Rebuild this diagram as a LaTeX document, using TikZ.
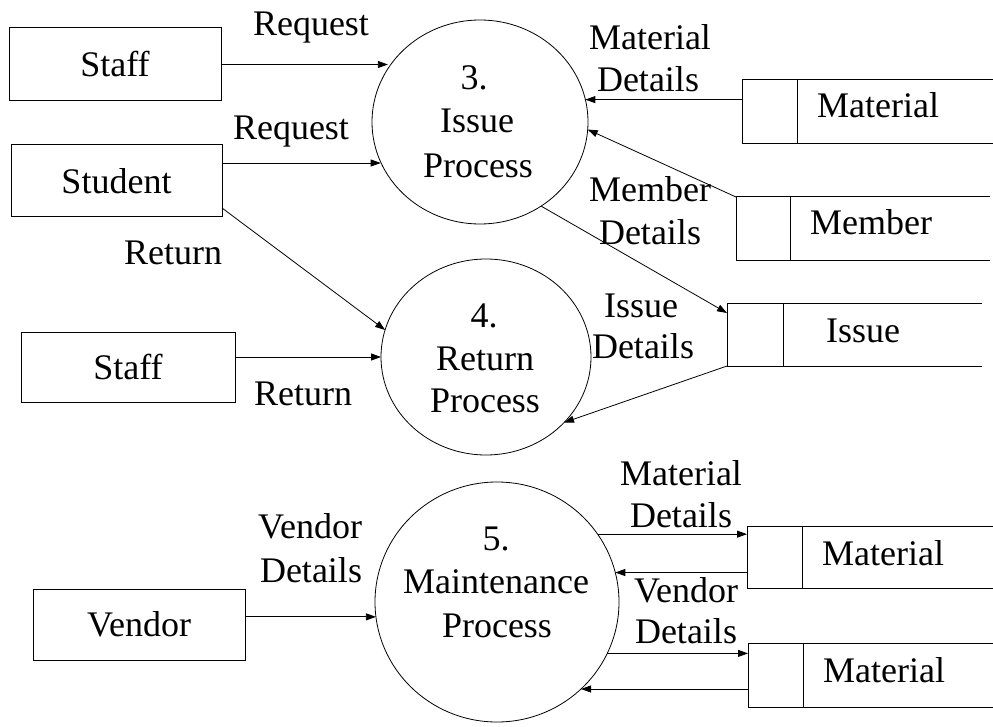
\documentclass[tikz,border=0pt]{standalone}
\usepackage{fontspec}
\setmainfont{Liberation Serif}
\usetikzlibrary{arrows.meta,shapes.geometric}

\newcommand\dfdfont{\fontsize{36}{44}\selectfont}

\tikzset{
  entity/.style={draw, line width=1pt, inner sep=0pt, outer sep=0pt, font=\dfdfont},
  process/.style={draw, ellipse, line width=0.8pt, inner sep=0pt, outer sep=0pt},
  cell/.style={draw, line width=1pt, inner sep=0pt, outer sep=0pt},
  storeline/.style={line width=1pt},
  lbl/.style={anchor=base, inner sep=0pt, font=\dfdfont},
  flow/.style={line width=0.8pt, -{Triangle[length=10pt,width=7pt]}}
}

\begin{document}
\begin{tikzpicture}[x=1pt,y=-1pt]
  \fill[white] (0,0) rectangle (993,727);
  \useasboundingbox (0,0) rectangle (993,727);

  % external entities
  \node[entity, minimum width=212pt, minimum height=73pt] (staff1)  at (115,64.5)  {Staff};
  \node[entity, minimum width=211pt, minimum height=72pt] (student) at (116.5,181) {Student};
  \node[entity, minimum width=214pt, minimum height=70pt] (staff2)  at (128,367)   {Staff};
  \node[entity, minimum width=212pt, minimum height=71pt] (vendor)  at (139,624.5) {Vendor};

  % processes
  \node[process, minimum width=216pt, minimum height=204pt] (c3) at (480,122) {};
  \node[process, minimum width=210pt, minimum height=196pt] (c4) at (486,357) {};
  \node[process, minimum width=244pt, minimum height=240pt] (c5) at (497,602) {};

  \node[lbl] (c3a) at (474,90)  {3.};
  \node[lbl] (c3b) at (477,133) {Issue};
  \node[lbl] (c3c) at (478,178) {Process};
  \node[lbl] (c4a) at (484,327) {4.};
  \node[lbl] (c4b) at (485,370) {Return};
  \node[lbl] (c4c) at (485,412) {Process};
  \node[lbl] (c5a) at (496,550) {5.};
  \node[lbl] (c5b) at (496,593) {Maintenance};
  \node[lbl] (c5c) at (497,637) {Process};

  % data stores: left cell plus open-ended top and bottom lines
  \node[cell, minimum width=55pt, minimum height=64pt] (ms1) at (769.5,112) {};
  \draw[storeline] (ms1.north east) -- ++(196,0) (ms1.south east) -- ++(196,0);
  \node[lbl] (ms1t) at (878,118) {Material};

  \node[cell, minimum width=54pt, minimum height=64pt] (mem) at (763,229) {};
  \draw[storeline] (mem.north east) -- ++(200,0) (mem.south east) -- ++(200,0);
  \node[lbl] (memt) at (871,235) {Member};

  \node[cell, minimum width=56pt, minimum height=62pt] (iss) at (755,335) {};
  \draw[storeline] (iss.north east) -- ++(199,0) (iss.south east) -- ++(199,0);
  \node[lbl] (isst) at (863,342) {Issue};

  \node[cell, minimum width=55pt, minimum height=62pt] (ms2) at (774.5,557) {};
  \draw[storeline] (ms2.north east) -- ++(191,0) (ms2.south east) -- ++(191,0);
  \node[lbl] (ms2t) at (883,565) {Material};

  \node[cell, minimum width=55pt, minimum height=64pt] (ms3) at (775.5,675) {};
  \draw[storeline] (ms3.north east) -- ++(190,0) (ms3.south east) -- ++(190,0);
  \node[lbl] (ms3t) at (884,682) {Material};

  % data flows
  \draw[flow] (staff1.east) -- (staff1.east -| c3.150);
  \coordinate (sreq) at ([yshift=18pt]student.east);
  \draw[flow] (sreq) -- (sreq -| c3.202);
  \draw[flow] ([yshift=-27pt]student.east) -- (c4.165);
  \draw[flow] (staff2.east |- c4.west) -- (c4.west);
  \draw[flow] (ms1.west |- c3.12) -- (c3.12);
  \draw[flow] (mem.north west) -- (c3.-4);
  \draw[flow] (c3.-54) -- ([yshift=-9pt]iss.north west);
  \draw[flow] (iss.south west) -- (c4.-40);
  \draw[flow] (vendor.east |- c5.187) -- (c5.187);
  \draw[flow] (c5.34) -- (c5.34 -| ms2.west);
  \draw[flow] (ms2.west |- c5.14) -- (c5.14);
  \draw[flow] (c5.-25) -- (c5.-25 -| ms3.west);
  \draw[flow] (ms3.west |- c5.-46) -- (c5.-46);

  % flow labels
  \node[lbl] (l1)  at (311,36)  {Request};
  \node[lbl] (l2)  at (291,140) {Request};
  \node[lbl] (l3)  at (173,265) {Return};
  \node[lbl] (l4)  at (303,405) {Return};
  \node[lbl] (l5a) at (650,50)  {Material};
  \node[lbl] (l5b) at (648,92)  {Details};
  \node[lbl] (l6a) at (650,202) {Member};
  \node[lbl] (l6b) at (650,245) {Details};
  \node[lbl] (l7a) at (641,317) {Issue};
  \node[lbl] (l7b) at (643,358) {Details};
  \node[lbl] (l8a) at (310,538) {Vendor};
  \node[lbl] (l8b) at (311,582) {Details};
  \node[lbl] (l9a) at (681,485) {Material};
  \node[lbl] (l9b) at (681,527) {Details};
  \node[lbl] (l10a) at (686,602) {Vendor};
  \node[lbl] (l10b) at (686,643) {Details};
\end{tikzpicture}
\end{document}
